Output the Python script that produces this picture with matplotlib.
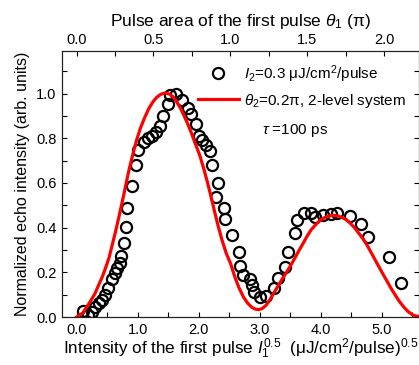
import matplotlib

matplotlib.use("Agg")
import matplotlib.pyplot as plt
from matplotlib.ticker import MultipleLocator

plt.rcParams["font.family"] = ["Liberation Sans", "DejaVu Sans"]
plt.rcParams["mathtext.fontset"] = "custom"
plt.rcParams["mathtext.rm"] = "Liberation Sans"
plt.rcParams["mathtext.it"] = "Liberation Sans:italic"
plt.rcParams["mathtext.bf"] = "Liberation Sans:bold"

# measured echo intensity (open circles)
meas_x = [
    0.11, 0.19, 0.25, 0.30, 0.36, 0.41, 0.47, 0.52, 0.58, 0.62, 0.66, 0.71,
    0.72, 0.78, 0.80, 0.83, 0.905, 0.975, 1.01, 1.10, 1.17, 1.23, 1.30, 1.37,
    1.41, 1.49, 1.53, 1.63, 1.72, 1.82, 1.88, 1.95, 2.00, 2.05, 2.12, 2.18,
    2.22, 2.32, 2.29, 2.41, 2.43, 2.55, 2.66, 2.68, 2.72, 2.84, 2.87, 2.90,
    3.01, 3.10, 3.23, 3.29, 3.42, 3.46, 3.58, 3.61, 3.72, 3.84, 3.90, 4.04,
    4.16, 4.27, 4.47, 4.66, 4.77, 5.12, 5.32,
]
meas_y = [
    0.027, 0.009, 0.024, 0.046, 0.061, 0.076, 0.098, 0.131, 0.168, 0.195, 0.22, 0.24,
    0.274, 0.329, 0.403, 0.488, 0.586, 0.679, 0.749, 0.783, 0.80, 0.812, 0.827, 0.854,
    0.90, 0.954, 0.994, 0.999, 0.969, 0.934, 0.91, 0.865, 0.81, 0.79, 0.772, 0.745,
    0.68, 0.60, 0.537, 0.49, 0.44, 0.366, 0.29, 0.23, 0.19, 0.168, 0.143, 0.11,
    0.091, 0.094, 0.128, 0.173, 0.225, 0.29, 0.374, 0.433, 0.466, 0.466, 0.448, 0.455,
    0.46, 0.466, 0.451, 0.414, 0.356, 0.27, 0.15,
]

# two-level system calculation (red curve)
calc_x = [
    0.00, 0.10, 0.22, 0.30, 0.36, 0.42, 0.47, 0.53, 0.58, 0.635, 0.685, 0.73,
    0.77, 0.81, 0.85, 0.89, 0.93, 0.98, 1.04, 1.11, 1.18, 1.25, 1.31, 1.38,
    1.45, 1.52, 1.58, 1.64, 1.70, 1.76, 1.81, 1.87, 1.93, 1.98, 2.02, 2.08,
    2.14, 2.20, 2.26, 2.32, 2.38, 2.45, 2.52, 2.59, 2.66, 2.73, 2.80, 2.87,
    2.93, 2.98, 3.04, 3.10, 3.16, 3.22, 3.29, 3.36, 3.43, 3.50, 3.57, 3.64,
    3.71, 3.77, 3.84, 3.92, 3.99, 4.06, 4.13, 4.21, 4.28, 4.35, 4.42, 4.48,
    4.55, 4.62, 4.69, 4.76, 4.84, 4.92, 5.00, 5.08, 5.15, 5.22, 5.29, 5.36,
    5.43, 5.50, 5.56, 5.60,
]
calc_y = [
    0.000, 0.018, 0.068, 0.105, 0.143, 0.180, 0.217, 0.265, 0.320, 0.380, 0.440, 0.495,
    0.545, 0.598, 0.649, 0.695, 0.738, 0.790, 0.842, 0.890, 0.932, 0.963, 0.983, 0.997,
    1.003, 0.998, 0.985, 0.962, 0.935, 0.900, 0.870, 0.830, 0.785, 0.750, 0.720, 0.665,
    0.605, 0.540, 0.470, 0.405, 0.345, 0.285, 0.240, 0.180, 0.130, 0.090, 0.062, 0.043,
    0.035, 0.033, 0.038, 0.052, 0.075, 0.103, 0.135, 0.167, 0.197, 0.228, 0.262, 0.297,
    0.330, 0.360, 0.390, 0.415, 0.433, 0.445, 0.452, 0.455, 0.452, 0.445, 0.435, 0.420,
    0.400, 0.375, 0.350, 0.320, 0.280, 0.240, 0.200, 0.162, 0.128, 0.097, 0.068, 0.044,
    0.024, 0.010, 0.004, 0.003,
]

THETA_PER_ROOT_I = 0.3974  # pi units per (uJ/cm2/pulse)^0.5
XLIM = (-0.24, 5.6)
YLIM = (0.0, 1.19)

fig = plt.figure(figsize=(4.19, 3.65), dpi=100)
ax = fig.add_axes([0.148, 0.1315, 0.851, 0.7285])

ax.plot(meas_x, meas_y, linestyle="none", marker="o", markersize=8,
        markerfacecolor="none", markeredgecolor="black", markeredgewidth=1.6,
        label=r"$I_2$=0.3 μJ/cm$^2$/pulse")
ax.plot(calc_x, calc_y, color="#ff0000", linewidth=2.3, solid_joinstyle="round",
        label=r"$\theta_2$=0.2π, 2-level system")

ax.set_xlim(*XLIM)
ax.set_ylim(*YLIM)
ax.xaxis.set_major_locator(MultipleLocator(1.0))
ax.xaxis.set_minor_locator(MultipleLocator(0.5))
ax.yaxis.set_major_locator(MultipleLocator(0.2))
ax.yaxis.set_minor_locator(MultipleLocator(0.1))
ax.xaxis.set_major_formatter(plt.FormatStrFormatter("%.1f"))
ax.yaxis.set_major_formatter(plt.FormatStrFormatter("%.1f"))
ax.tick_params(which="both", direction="in", top=False, right=True,
               labelsize=10.5, length=3.5, width=0.8, pad=4)
ax.set_xlabel(r"Intensity of the first pulse $I_1^{0.5}$  (μJ/cm$^2$/pulse)$^{0.5}$",
              fontsize=12.3, labelpad=0)
ax.set_ylabel("Normalized echo intensity (arb. units)", fontsize=11.5, labelpad=4)

top = ax.twiny()
top.set_xlim(XLIM[0] * THETA_PER_ROOT_I, XLIM[1] * THETA_PER_ROOT_I)
top.xaxis.set_major_locator(MultipleLocator(0.5))
top.xaxis.set_minor_locator(MultipleLocator(0.25))
top.xaxis.set_major_formatter(plt.FormatStrFormatter("%.1f"))
top.tick_params(which="both", direction="in", labelsize=10.5, length=3.5, width=0.8, pad=3)
top.set_xlabel(r"Pulse area of the first pulse $\theta_1$ (π)", fontsize=12.5, labelpad=5)

for a in (ax, top):
    for s in a.spines.values():
        s.set_linewidth(0.8)
        s.set_color("#222222")

ax.legend(loc="upper left", bbox_to_anchor=(0.381, 0.955), frameon=False,
          fontsize=11, handlelength=2.7, handletextpad=0.3, borderpad=0,
          borderaxespad=0, labelspacing=0.45)
ax.text(0.561, 0.703, r"$\tau$ =100 ps", transform=ax.transAxes, fontsize=11,
        va="center", ha="left")

fig.savefig("out.png", dpi=100)
